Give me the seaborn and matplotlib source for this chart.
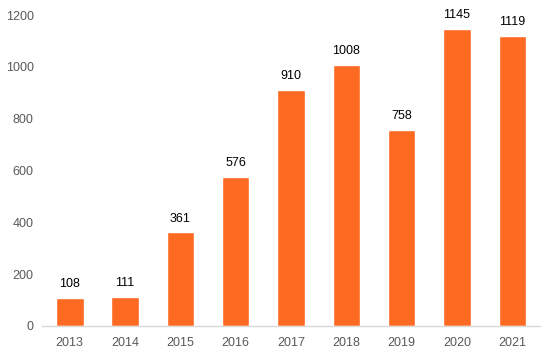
import matplotlib
matplotlib.use("Agg")
import matplotlib.pyplot as plt
import seaborn as sns
import pandas as pd

# Data
years = ["2013", "2014", "2015", "2016", "2017", "2018", "2019", "2020", "2021"]
values = [108, 111, 361, 576, 910, 1008, 758, 1145, 1119]
y_ticks = [0, 200, 400, 600, 800, 1000, 1200]

df = pd.DataFrame({"Year": years, "Value": values})

sns.set_style("white")
plt.rcParams["font.family"] = ["Liberation Sans", "DejaVu Sans"]

fig = plt.figure(figsize=(5.54, 3.59), dpi=100)
ax = fig.add_axes([42 / 554, 33 / 359, 498 / 554, 311 / 359])

sns.barplot(data=df, x="Year", y="Value", color="#FF6A22", saturation=1,
            width=0.5, ax=ax)

# value labels above the bars
for i, v in enumerate(values):
    ax.text(i, v + 30, str(v), ha="center", va="bottom", fontsize=9, color="black")

ax.set_xlim(-0.5, len(years) - 0.5)
ax.set_ylim(0, 1200)
ax.set_yticks(y_ticks)
ax.set_xlabel("")
ax.set_ylabel("")
ax.tick_params(axis="both", length=0, labelsize=9, labelcolor="#595959")
ax.tick_params(axis="y", pad=6)
ax.tick_params(axis="x", pad=8)

for side in ["top", "right", "left"]:
    ax.spines[side].set_visible(False)
ax.spines["bottom"].set_color("#D9D9D9")
ax.spines["bottom"].set_linewidth(1)

fig.savefig("out.png", dpi=100)
